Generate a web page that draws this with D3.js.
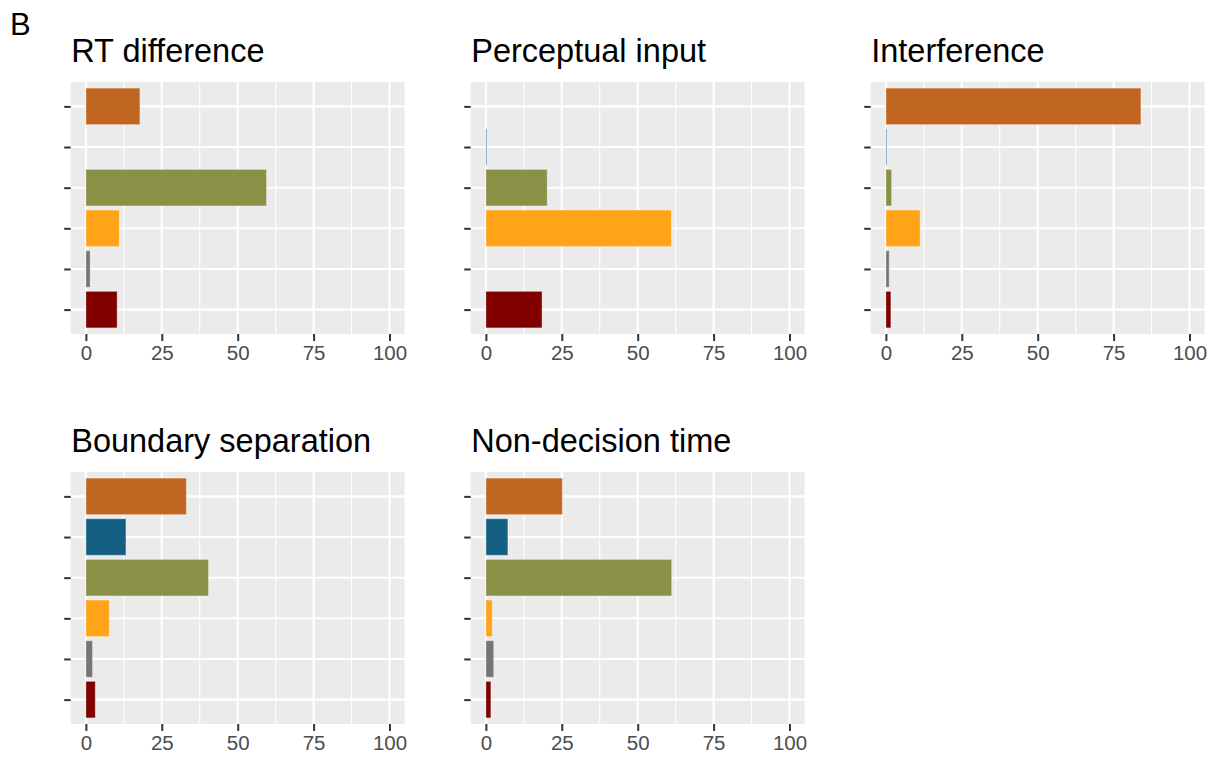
<!DOCTYPE html>
<html>
<head>
<meta charset="utf-8">
<script src="https://cdn.jsdelivr.net/npm/d3@7"></script>
<style>
  html, body { margin: 0; padding: 0; background: #ffffff; }
  svg { display: block; font-family: "Liberation Sans", Arial, sans-serif; }
</style>
</head>
<body>
<svg id="chart" width="1220" height="760"></svg>
<script>
// Factor categories, bottom to top on each panel's y axis
const categories = ["F1", "F2", "F3", "F4", "F5", "F6"];
const palette = ["#800000", "#767676", "#FFA319", "#8A9045", "#155F83", "#C16622"];

const panelTitles = ["RT difference", "Perceptual input", "Interference",
                     "Boundary separation", "Non-decision time"];

// Percentage values per panel, ordered like `categories`
const rtDifference       = [10.3, 1.4, 11.0, 59.5, 0.0, 17.8];
const perceptualInput    = [18.5, 0.0, 61.1, 20.2, 0.3, 0.0];
const interference       = [1.65, 1.1, 11.3, 1.9, 0.3, 84.0];
const boundarySeparation = [3.1, 2.2, 7.7, 40.4, 13.2, 33.1];
const nonDecisionTime    = [1.65, 2.6, 2.1, 61.2, 7.25, 25.2];

const majorTicks = [0, 25, 50, 75, 100];
const minorTicks = [12.5, 37.5, 62.5, 87.5];

const panelValues = [rtDifference, perceptualInput, interference,
                     boundarySeparation, nonDecisionTime];

const svg = d3.select("#chart");

// Panel tag
svg.append("text")
  .attr("x", 10).attr("y", 34.5)
  .attr("font-size", 31)
  .attr("fill", "#000")
  .text("B");

const panelW = 334, panelH = 252;
const colX = [70.7, 470.7, 870.7];
const rowY = [82, 472];

panelValues.forEach((vals, p) => {
  const left = colX[p % 3];
  const top = rowY[Math.floor(p / 3)];
  const g = svg.append("g").attr("transform", `translate(${left},${top})`);

  const x = d3.scaleLinear().domain([-5, 105]).range([0, panelW]);
  const y = d3.scalePoint().domain(categories).range([panelH, 0]).padding(0.6);
  const barH = y.step() * 0.9;

  // panel background
  g.append("rect")
    .attr("width", panelW).attr("height", panelH)
    .attr("fill", "#EBEBEB");

  // minor vertical grid
  g.selectAll(".minor").data(minorTicks).join("line")
    .attr("x1", d => x(d)).attr("x2", d => x(d))
    .attr("y1", 0).attr("y2", panelH)
    .attr("stroke", "#fff").attr("stroke-width", 1.1);

  // major vertical grid
  g.selectAll(".majorx").data(majorTicks).join("line")
    .attr("x1", d => x(d)).attr("x2", d => x(d))
    .attr("y1", 0).attr("y2", panelH)
    .attr("stroke", "#fff").attr("stroke-width", 2.1);

  // major horizontal grid at each category
  g.selectAll(".majory").data(categories).join("line")
    .attr("x1", 0).attr("x2", panelW)
    .attr("y1", d => y(d)).attr("y2", d => y(d))
    .attr("stroke", "#fff").attr("stroke-width", 2.1);

  // bars
  g.selectAll(".bar").data(categories.map((c, i) => ({ c, v: vals[i], i })))
    .join("rect")
    .filter(d => d.v > 0)
    .attr("x", x(0))
    .attr("y", d => y(d.c) - barH / 2)
    .attr("width", d => x(d.v) - x(0))
    .attr("height", barH)
    .attr("fill", d => palette[d.i])
    .attr("stroke", "rgba(255,255,255,0.4)")
    .attr("stroke-width", 1);

  // x axis
  const xAxis = g.append("g")
    .attr("transform", `translate(0,${panelH})`)
    .call(d3.axisBottom(x).tickValues(majorTicks).tickSize(7).tickPadding(4).tickFormat(d3.format("d")));
  xAxis.select(".domain").remove();
  xAxis.selectAll("line").attr("stroke", "#333").attr("stroke-width", 2);
  xAxis.selectAll("text")
    .attr("font-size", 20.5)
    .attr("fill", "#4D4D4D")
    .attr("font-family", "Liberation Sans, Arial, sans-serif");

  // y axis (ticks only, no labels)
  const yAxis = g.append("g")
    .call(d3.axisLeft(y).tickSize(6.5).tickFormat(""));
  yAxis.select(".domain").remove();
  yAxis.selectAll("line").attr("stroke", "#333").attr("stroke-width", 2);

  // panel title
  g.append("text")
    .attr("x", 0.5)
    .attr("y", -19.7)
    .attr("font-size", 32.5)
    .attr("fill", "#000")
    .text(panelTitles[p]);
});
</script>
</body>
</html>
